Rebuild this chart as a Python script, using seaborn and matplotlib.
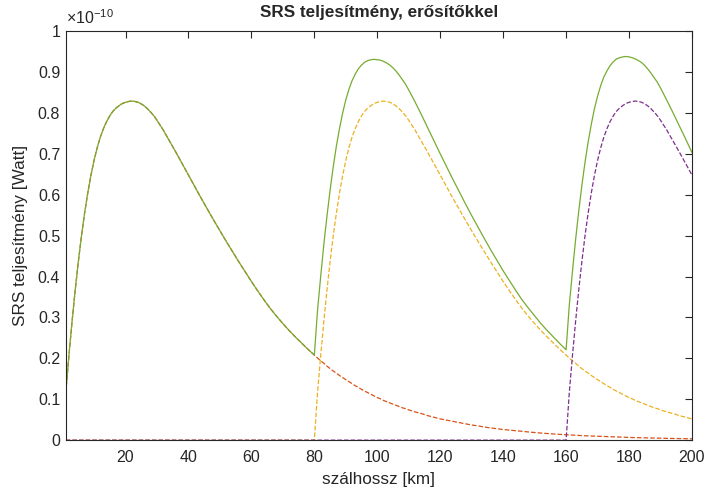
""" SRS power along the fibre, with amplifiers. """
import pandas as pd
import seaborn as sns
import matplotlib.pyplot as plt

# fibre length [km]: 1..80, 81..160, 161..200
km = (list(range(1, 31)) + list(range(32, 81, 2))
      + list(range(81, 111)) + list(range(112, 161, 2))
      + list(range(161, 191)) + list(range(192, 201, 2)))

# SRS power, x1e-10 W, one span after its amplifier (km 1..80 of a span)
span_shape = [0.115, 0.205, 0.289, 0.366, 0.436, 0.499, 0.555, 0.604, 0.647, 0.684,
              0.715, 0.741, 0.762, 0.779, 0.793, 0.804, 0.812, 0.818, 0.823, 0.826,
              0.828, 0.829, 0.828, 0.826, 0.822, 0.817, 0.81, 0.802, 0.793, 0.782,
              0.758, 0.731, 0.704, 0.676, 0.648, 0.62, 0.592, 0.565, 0.538, 0.512,
              0.486, 0.461, 0.436, 0.412, 0.388, 0.365, 0.343, 0.322, 0.303, 0.285,
              0.268, 0.252, 0.237, 0.222, 0.208]

# decaying tail after the next amplifier (span km 81..160)
tail_1 = [0.201, 0.194, 0.188, 0.181, 0.175, 0.169, 0.164, 0.158, 0.153, 0.148,
          0.143, 0.138, 0.133, 0.129, 0.124, 0.12, 0.116, 0.112, 0.108, 0.104,
          0.101, 0.097, 0.094, 0.091, 0.088, 0.085, 0.082, 0.079, 0.077, 0.074,
          0.069, 0.065, 0.06, 0.056, 0.052, 0.049, 0.046, 0.043, 0.04, 0.037,
          0.035, 0.032, 0.03, 0.028, 0.026, 0.0245, 0.023, 0.0213, 0.0199, 0.0186,
          0.0173, 0.0162, 0.0151, 0.0141, 0.0132]

# further tail of the first span (km 161..200)
tail_2 = [0.0128, 0.0123, 0.0119, 0.0115, 0.0111, 0.0107, 0.0104, 0.01, 0.0097,
          0.0093, 0.009, 0.0087, 0.0084, 0.0081, 0.0079, 0.0076, 0.0073, 0.0071,
          0.0069, 0.0066, 0.0064, 0.0062, 0.006, 0.0058, 0.0056, 0.0054, 0.0052,
          0.005, 0.0049, 0.0047, 0.0044, 0.0041, 0.0038, 0.0036, 0.0033]

span1 = span_shape + tail_1 + tail_2
span2 = [0.0] * 55 + span_shape + tail_1[:30] + [0.069, 0.065, 0.06, 0.056, 0.052]
span3 = [0.0] * 110 + span_shape[:30] + [0.758, 0.731, 0.704, 0.676, 0.648]

total = span_shape + [
    0.316, 0.399, 0.477, 0.547, 0.611, 0.668, 0.719, 0.762, 0.8, 0.832,
    0.858, 0.879, 0.895, 0.908, 0.917, 0.924, 0.928, 0.93, 0.931, 0.93,
    0.929, 0.926, 0.922, 0.917, 0.91, 0.902, 0.892, 0.881, 0.87, 0.856,
    0.827, 0.796, 0.764, 0.732, 0.7, 0.669, 0.638, 0.608, 0.578, 0.549,
    0.521, 0.493, 0.466, 0.44, 0.414, 0.39, 0.366, 0.343, 0.323, 0.304,
    0.285, 0.268, 0.252, 0.236, 0.221,
    0.329, 0.411, 0.489, 0.559, 0.622, 0.679, 0.729, 0.772, 0.81, 0.841,
    0.867, 0.888, 0.903, 0.916, 0.925, 0.932, 0.935, 0.937, 0.938, 0.937,
    0.935, 0.932, 0.928, 0.923, 0.916, 0.907, 0.897, 0.886, 0.875, 0.861,
    0.831, 0.8, 0.768, 0.736, 0.703]

sns.set_style("white")
plt.rcParams['font.family'] = ['Liberation Sans', 'DejaVu Sans']
plt.rcParams['mathtext.fontset'] = 'custom'
plt.rcParams['mathtext.rm'] = 'Liberation Sans'

dframe = pd.DataFrame({'km': km, 'span1': span1, 'span2': span2,
                       'span3': span3, 'total': total})

fig = plt.figure(figsize=(7.09, 4.94), dpi=100)
ax = fig.add_axes([0.0927, 0.109, 0.8833, 0.828])

dash = (7, 4)
sns.lineplot(x='km', y='span1', data=dframe, ax=ax, color=(0.85, 0.325, 0.098),
             linewidth=0.9, linestyle='--', dashes=dash)
sns.lineplot(x='km', y='span2', data=dframe, ax=ax, color=(0.929, 0.694, 0.125),
             linewidth=0.9, linestyle='--', dashes=dash)
sns.lineplot(x='km', y='span3', data=dframe, ax=ax, color=(0.494, 0.184, 0.556),
             linewidth=0.9, linestyle='--', dashes=dash)
sns.lineplot(x='km', y='total', data=dframe, ax=ax, color=(0.466, 0.674, 0.188),
             linewidth=0.9)

dark = (0.15, 0.15, 0.15)
ax.set_xlim(1, 200)
ax.set_ylim(0, 1)
ax.set_xticks(range(20, 201, 20))
ax.set_yticks([i / 10 for i in range(11)])
ax.set_yticklabels(['0', '0.1', '0.2', '0.3', '0.4', '0.5', '0.6', '0.7',
                    '0.8', '0.9', '1'])
ax.tick_params(direction='in', length=5, width=0.8, top=True, right=True,
               labelsize=11.5, colors=dark)
ax.tick_params(axis='x', pad=7)
ax.tick_params(axis='y', pad=4)
for spine in ax.spines.values():
    spine.set_color(dark)
    spine.set_linewidth(0.8)

ax.set_xlabel('szálhossz [km]', fontsize=12.3, color=dark, labelpad=5)
ax.set_ylabel('SRS teljesítmény [Watt]', fontsize=12.3, color=dark,
              labelpad=7)
ax.set_title('SRS teljesítmény, erősítőkkel', fontsize=12.3,
             fontweight='bold', pad=10)
ax.text(0.0, 1.01, r'$\times10^{-10}$', transform=ax.transAxes,
        fontsize=11.5, color=dark, ha='left', va='bottom')

fig.savefig('out.png', dpi=100)
